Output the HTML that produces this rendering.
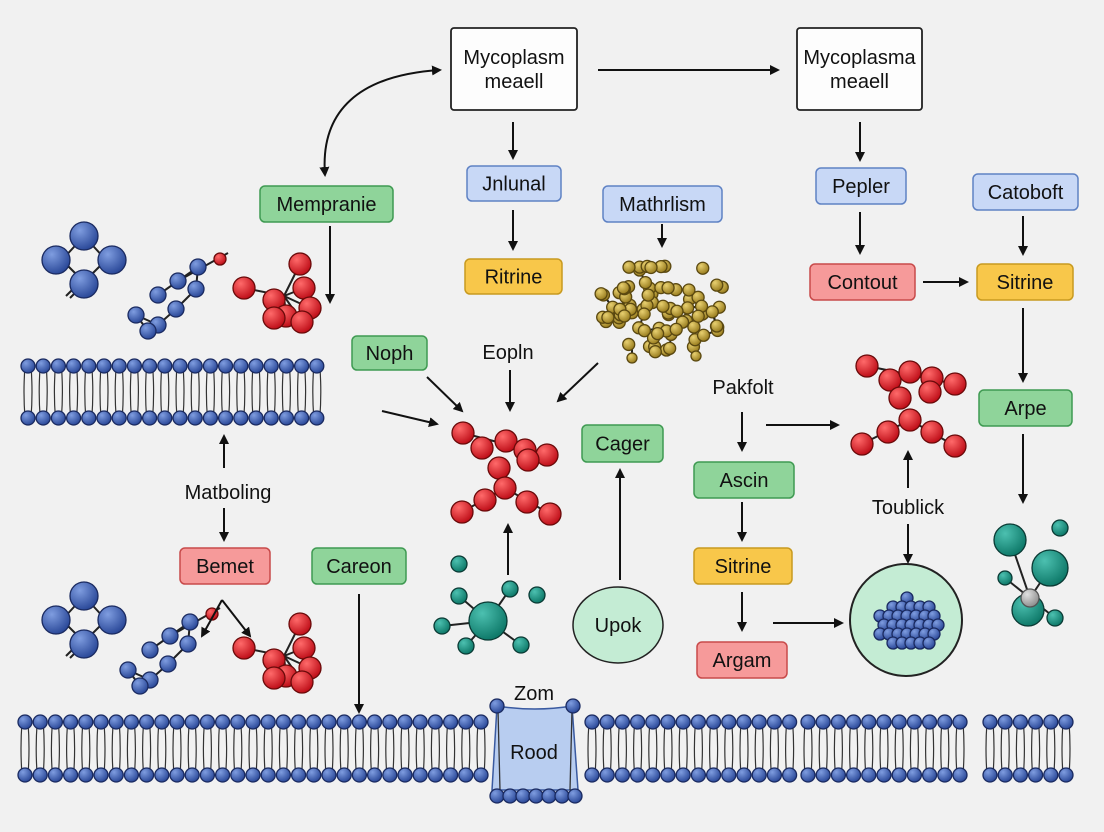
<!DOCTYPE html>
<html><head><meta charset="utf-8"><style>
html,body{margin:0;padding:0;background:#f1f1f1}
svg{display:block}
text{font-family:"Liberation Sans",sans-serif;fill:#111}
</style></head><body>
<svg id="s" width="1104" height="832" viewBox="0 0 1104 832" xmlns="http://www.w3.org/2000/svg">
<defs>
<marker id="ah" markerWidth="10" markerHeight="10" refX="8" refY="5" orient="auto" markerUnits="userSpaceOnUse"><path d="M0,0 L10,5 L0,10 z" fill="#111"/></marker>
<marker id="as" markerWidth="10" markerHeight="10" refX="2" refY="5" orient="auto" markerUnits="userSpaceOnUse"><path d="M10,0 L0,5 L10,10 z" fill="#111"/></marker>
<radialGradient id="gb" cx="35%" cy="30%" r="70%"><stop offset="0" stop-color="#7f9de0"/><stop offset="1" stop-color="#2c4a9a"/></radialGradient>
<radialGradient id="gr" cx="35%" cy="30%" r="70%"><stop offset="0" stop-color="#ff6a6a"/><stop offset="1" stop-color="#c0101a"/></radialGradient>
<radialGradient id="gt" cx="35%" cy="30%" r="70%"><stop offset="0" stop-color="#4cc0b0"/><stop offset="1" stop-color="#0f7a6a"/></radialGradient>
<radialGradient id="gy" cx="35%" cy="30%" r="70%"><stop offset="0" stop-color="#e8d070"/><stop offset="1" stop-color="#9a7e20"/></radialGradient>
<radialGradient id="gg" cx="35%" cy="30%" r="70%"><stop offset="0" stop-color="#e0e0e0"/><stop offset="1" stop-color="#909090"/></radialGradient>
</defs>
<g id="mem"></g>
<g id="mol"></g>
<g id="ln" stroke="#111" stroke-width="2" fill="none"></g>
<g id="bx"></g>
</svg>
<script>
const NS="http://www.w3.org/2000/svg";
function el(p,t,a,txt){const e=document.createElementNS(NS,t);for(const k in a)e.setAttribute(k,a[k]);if(txt!==undefined)e.textContent=txt;document.getElementById(p).appendChild(e);return e;}
const st={b:"#1a2a60",r:"#6a0a0a",t:"#0a3a34",y:"#5a4810",g:"#555"};
function ball(x,y,r,c,g){el(g||"mol","circle",{cx:x,cy:y,r:r,fill:"url(#g"+c+")",stroke:st[c],"stroke-width":1.3});}
function bond(x1,y1,x2,y2,g){el(g||"mol","line",{x1:x1,y1:y1,x2:x2,y2:y2,stroke:"#222","stroke-width":2});}
function membrane(x0,x1,yt,yb){
  for(let x=x0;x<=x1;x+=15.2){
    el("mem","path",{d:`M${x-3},${yt} Q${x-5},${(yt+yb)/2} ${x-3},${yb} M${x+3},${yt} Q${x+5},${(yt+yb)/2} ${x+3},${yb}`,stroke:"#333","stroke-width":1.2,fill:"none"});
  }
  for(let x=x0;x<=x1;x+=15.2){ball(x,yt,7,"b","mem");ball(x,yb,7,"b","mem");}
}
membrane(28,320,366,418);
membrane(25,485,722,775);
membrane(592,792,722,775);
membrane(808,975,722,775);
membrane(990,1070,722,775);
el("mem","path",{d:"M497,706 Q535,712 572,706 L578,790 L492,790 Z",fill:"#b8cdf0",stroke:"#3a5aa0","stroke-width":1.5});
el("mem","line",{x1:498,y1:710,x2:500,y2:790,stroke:"#333","stroke-width":1.3});
el("mem","line",{x1:572,y1:710,x2:570,y2:790,stroke:"#333","stroke-width":1.3});
ball(497,706,7,"b","mem");ball(573,706,7,"b","mem");
for(let x=497;x<=575;x+=13)ball(x,796,7,"b","mem");

function sq(cx,cy,s){bond(cx,cy-22,cx-22,cy+2);bond(cx,cy-22,cx+22,cy+2);bond(cx-22,cy+2,cx,cy+24);bond(cx+22,cy+2,cx,cy+24);
 bond(cx-10,cy+30,cx-18,cy+38);bond(cx-6,cy+32,cx-14,cy+40);
 ball(cx,cy-22,14,"b");ball(cx-28,cy+2,14,"b");ball(cx+28,cy+2,14,"b");ball(cx,cy+26,14,"b");}
sq(84,258);sq(84,618);
function chain(ox,oy){const p=[[0,0],[20,-14],[40,-28],[38,-6],[18,14],[0,30],[-22,20],[-10,36]];
 bond(ox+20,oy-14,ox+70,oy-42);
 for(let i=0;i<p.length-1;i++)bond(ox+p[i][0],oy+p[i][1],ox+p[i+1][0],oy+p[i+1][1]);
 p.forEach(q=>ball(ox+q[0],oy+q[1],8,"b"));ball(ox+62,oy-36,6,"r");}
chain(158,295);chain(150,650);
function redc(ox,oy){const p=[[16,-24],[-40,0],[-10,12],[20,0],[26,20],[2,28],[-10,30],[18,34]];
 p.forEach(q=>bond(ox,oy+8,ox+q[0],oy+q[1]));
 p.forEach(q=>ball(ox+q[0],oy+q[1],11,"r"));}
redc(284,288);redc(284,648);
(function(){const c=[[463,433],[482,448],[506,441],[525,450],[547,455],[528,460],[499,468],[505,488],[485,500],[462,512],[527,502],[550,514]];
 bond(463,433,547,455);bond(462,512,505,488);bond(505,488,550,514);
 c.forEach(q=>ball(q[0],q[1],11,"r"));})();
(function(){const c=[[867,366],[890,380],[910,372],[932,378],[955,384],[900,398],[930,392],[910,420],[888,432],[862,444],[932,432],[955,446]];
 bond(867,366,955,384);bond(862,444,910,420);bond(910,420,955,446);
 c.forEach(q=>ball(q[0],q[1],11,"r"));})();
(function(){const cx=488,cy=621;[[459,596],[510,589],[442,626],[466,646],[521,645]].forEach(q=>bond(cx,cy,q[0],q[1]));
 [[459,596],[510,589],[442,626],[466,646],[521,645],[459,564],[537,595]].forEach(q=>ball(q[0],q[1],8,"t"));ball(cx,cy,19,"t");})();
(function(){bond(1010,540,1030,598);bond(1050,568,1030,598);bond(1030,598,1005,578);bond(1030,598,1055,618);bond(1030,598,1028,615);
 ball(1010,540,16,"t");ball(1050,568,18,"t");ball(1005,578,7,"t");ball(1060,528,8,"t");ball(1028,610,16,"t");ball(1030,598,9,"g");ball(1055,618,8,"t");})();
(function(){let seed=7;function rnd(){seed=(seed*9301+49297)%233280;return seed/233280;}
 const pts=[];for(let i=0;i<80;i++){const a=rnd()*6.28,r=Math.sqrt(rnd());pts.push([662+Math.cos(a)*r*66,305+Math.sin(a)*r*48]);}
 for(let i=0;i<pts.length;i++){for(let j=i+1;j<pts.length;j++){const dx=pts[i][0]-pts[j][0],dy=pts[i][1]-pts[j][1];if(dx*dx+dy*dy<240)bond(pts[i][0],pts[i][1],pts[j][0],pts[j][1]);}}
 bond(632,340,632,362);bond(696,340,696,358);
 pts.forEach(q=>ball(q[0],q[1],6,"y"));ball(632,358,5,"y");ball(696,356,5,"y");})();
el("mol","circle",{cx:906,cy:620,r:56,fill:"#c4ecd4",stroke:"#222","stroke-width":2});
(function(){for(let y=598;y<=650;y+=9)for(let x=880;x<=935;x+=9){const dx=x-907,dy=y-624;if(dx*dx/900+dy*dy/700<1)ball(x+(y%2?4:0),y,6,"b");}})();
el("mol","ellipse",{cx:618,cy:625,rx:45,ry:38,fill:"#c4ecd4",stroke:"#222","stroke-width":1.5});

function ar(d,both){const a={d:d,"marker-end":"url(#ah)"};if(both)a["marker-start"]="url(#as)";el("ln","path",a);}
ar("M598,70 L778,70");
ar("M440,70 C360,75 320,110 325,175",true);
ar("M513,122 L513,158");
ar("M513,210 L513,249");
ar("M860,122 L860,160");
ar("M860,212 L860,253");
ar("M1023,216 L1023,254");
ar("M662,224 L662,246");
ar("M330,226 L330,302");
ar("M923,282 L967,282");
ar("M1023,308 L1023,381");
ar("M1023,434 L1023,502");
ar("M427,377 L462,411");
ar("M510,370 L510,410");
ar("M598,363 L558,401");
ar("M382,411 L437,424");
ar("M742,412 L742,450");
ar("M766,425 L838,425");
ar("M742,502 L742,540");
ar("M742,592 L742,630");
ar("M773,623 L842,623");
ar("M908,488 L908,452");
ar("M908,524 L908,562");
ar("M224,468 L224,436");
ar("M224,508 L224,540");
ar("M222,600 L202,636");
ar("M222,600 L250,636");
ar("M359,594 L359,712");
ar("M508,575 L508,525");
ar("M620,580 L620,470");

const C={g:["#8fd49a","#3f9a52"],b:["#c8d8f6","#5f82c4"],y:["#f8c74a","#c89a20"],r:["#f69a9a","#c84a4a"],w:["#fdfdfd","#222"]};
function box(x,y,w,h,c,t,fs){el("bx","rect",{x:x,y:y,width:w,height:h,rx:c=="w"?3:5,fill:C[c][0],stroke:C[c][1],"stroke-width":c=="w"?1.8:1.5});
 const lines=t.split("\n");lines.forEach((l,i)=>el("bx","text",{x:x+w/2,y:y+h/2+(i-(lines.length-1)/2)*24+7,"text-anchor":"middle","font-size":fs||20},l));}
function txt(x,y,t){el("bx","text",{x:x,y:y,"text-anchor":"middle","font-size":20},t);}
box(451,28,126,82,"w","Mycoplasm\nmeaell");
box(797,28,125,82,"w","Mycoplasma\nmeaell");
box(260,186,133,36,"g","Mempranie");
box(467,166,94,35,"b","Jnlunal");
box(465,259,97,35,"y","Ritrine");
box(603,186,119,36,"b","Mathrlism");
box(816,168,90,36,"b","Pepler");
box(973,174,105,36,"b","Catoboft");
box(810,264,105,36,"r","Contout");
box(977,264,96,36,"y","Sitrine");
box(352,336,75,34,"g","Noph");
box(979,390,93,36,"g","Arpe");
box(582,425,81,37,"g","Cager");
box(694,462,100,36,"g","Ascin");
box(180,548,90,36,"r","Bemet");
box(312,548,94,36,"g","Careon");
box(694,548,98,36,"y","Sitrine");
box(697,642,90,36,"r","Argam");
txt(508,359,"Eopln");
txt(743,394,"Pakfolt");
txt(908,514,"Toublick");
txt(228,499,"Matboling");
txt(618,632,"Upok");
txt(534,700,"Zom");
txt(534,759,"Rood");
</script>
</body></html>
